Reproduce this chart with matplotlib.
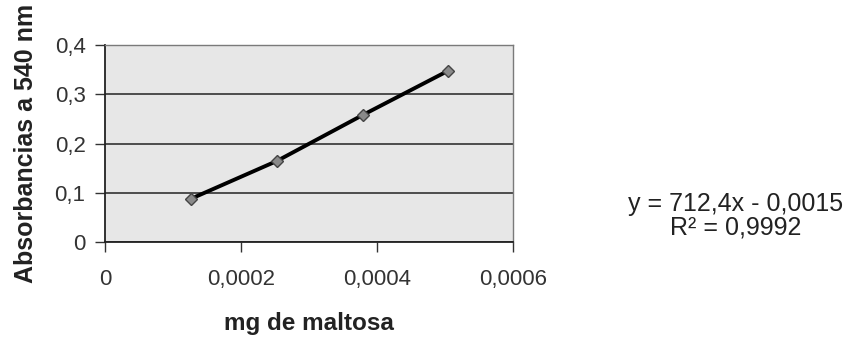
import matplotlib
matplotlib.use("Agg")
import matplotlib.pyplot as plt

# Calibration data: maltose mass vs absorbance
mg_maltosa = [0.000126, 0.000253, 0.000379, 0.000505]
absorbancia = [0.088, 0.165, 0.258, 0.348]

x_ticks = [0, 0.0002, 0.0004, 0.0006]
x_tick_labels = ["0", "0,0002", "0,0004", "0,0006"]
y_ticks = [0, 0.1, 0.2, 0.3, 0.4]
y_tick_labels = ["0", "0,1", "0,2", "0,3", "0,4"]

ecuacion = "y = 712,4x - 0,0015"
r_cuadrado = "R² = 0,9992"

plt.rcParams["font.family"] = ["Liberation Sans", "DejaVu Sans"]

fig = plt.figure(figsize=(8.58, 3.37), dpi=100)
ax = fig.add_axes([0.1224, 0.281, 0.4755, 0.5855])
ax.set_facecolor("#e7e7e7")

ax.plot(mg_maltosa, absorbancia, color="black", lw=2.8, zorder=3,
        marker="D", markersize=6, markerfacecolor="#8a8a8a",
        markeredgecolor="#444444", markeredgewidth=1.0)

ax.set_xlim(0, 0.0006)
ax.set_ylim(0, 0.4)
ax.set_xticks(x_ticks)
ax.set_xticklabels(x_tick_labels)
ax.set_yticks(y_ticks)
ax.set_yticklabels(y_tick_labels)

ax.yaxis.grid(True, color="#222222", lw=1.1)
ax.set_axisbelow(True)

for side in ("left", "bottom"):
    ax.spines[side].set_color("#222222")
    ax.spines[side].set_linewidth(1.3)
for side in ("top", "right"):
    ax.spines[side].set_color("#7a7a7a")
    ax.spines[side].set_linewidth(1.0)

ax.tick_params(axis="x", direction="out", length=7, width=1, color="#333333",
               pad=12, labelsize=16, labelcolor="#333333")
ax.tick_params(axis="y", direction="out", length=7, width=1, color="#333333",
               pad=7, labelsize=16, labelcolor="#333333")

ax.set_xlabel("mg de maltosa", fontsize=17.5, fontweight="bold", labelpad=16,
              color="#222222")
ax.set_ylabel("Absorbancias a 540 nm", fontsize=18, fontweight="bold",
              labelpad=12, color="#222222")

fig.text(0.857, 1 - 204 / 337, ecuacion, ha="center", va="center",
         fontsize=18, color="#222222")
fig.text(0.857, 1 - 228 / 337, r_cuadrado, ha="center", va="center",
         fontsize=18, color="#222222")

fig.savefig("out.png", dpi=100, facecolor="white")
